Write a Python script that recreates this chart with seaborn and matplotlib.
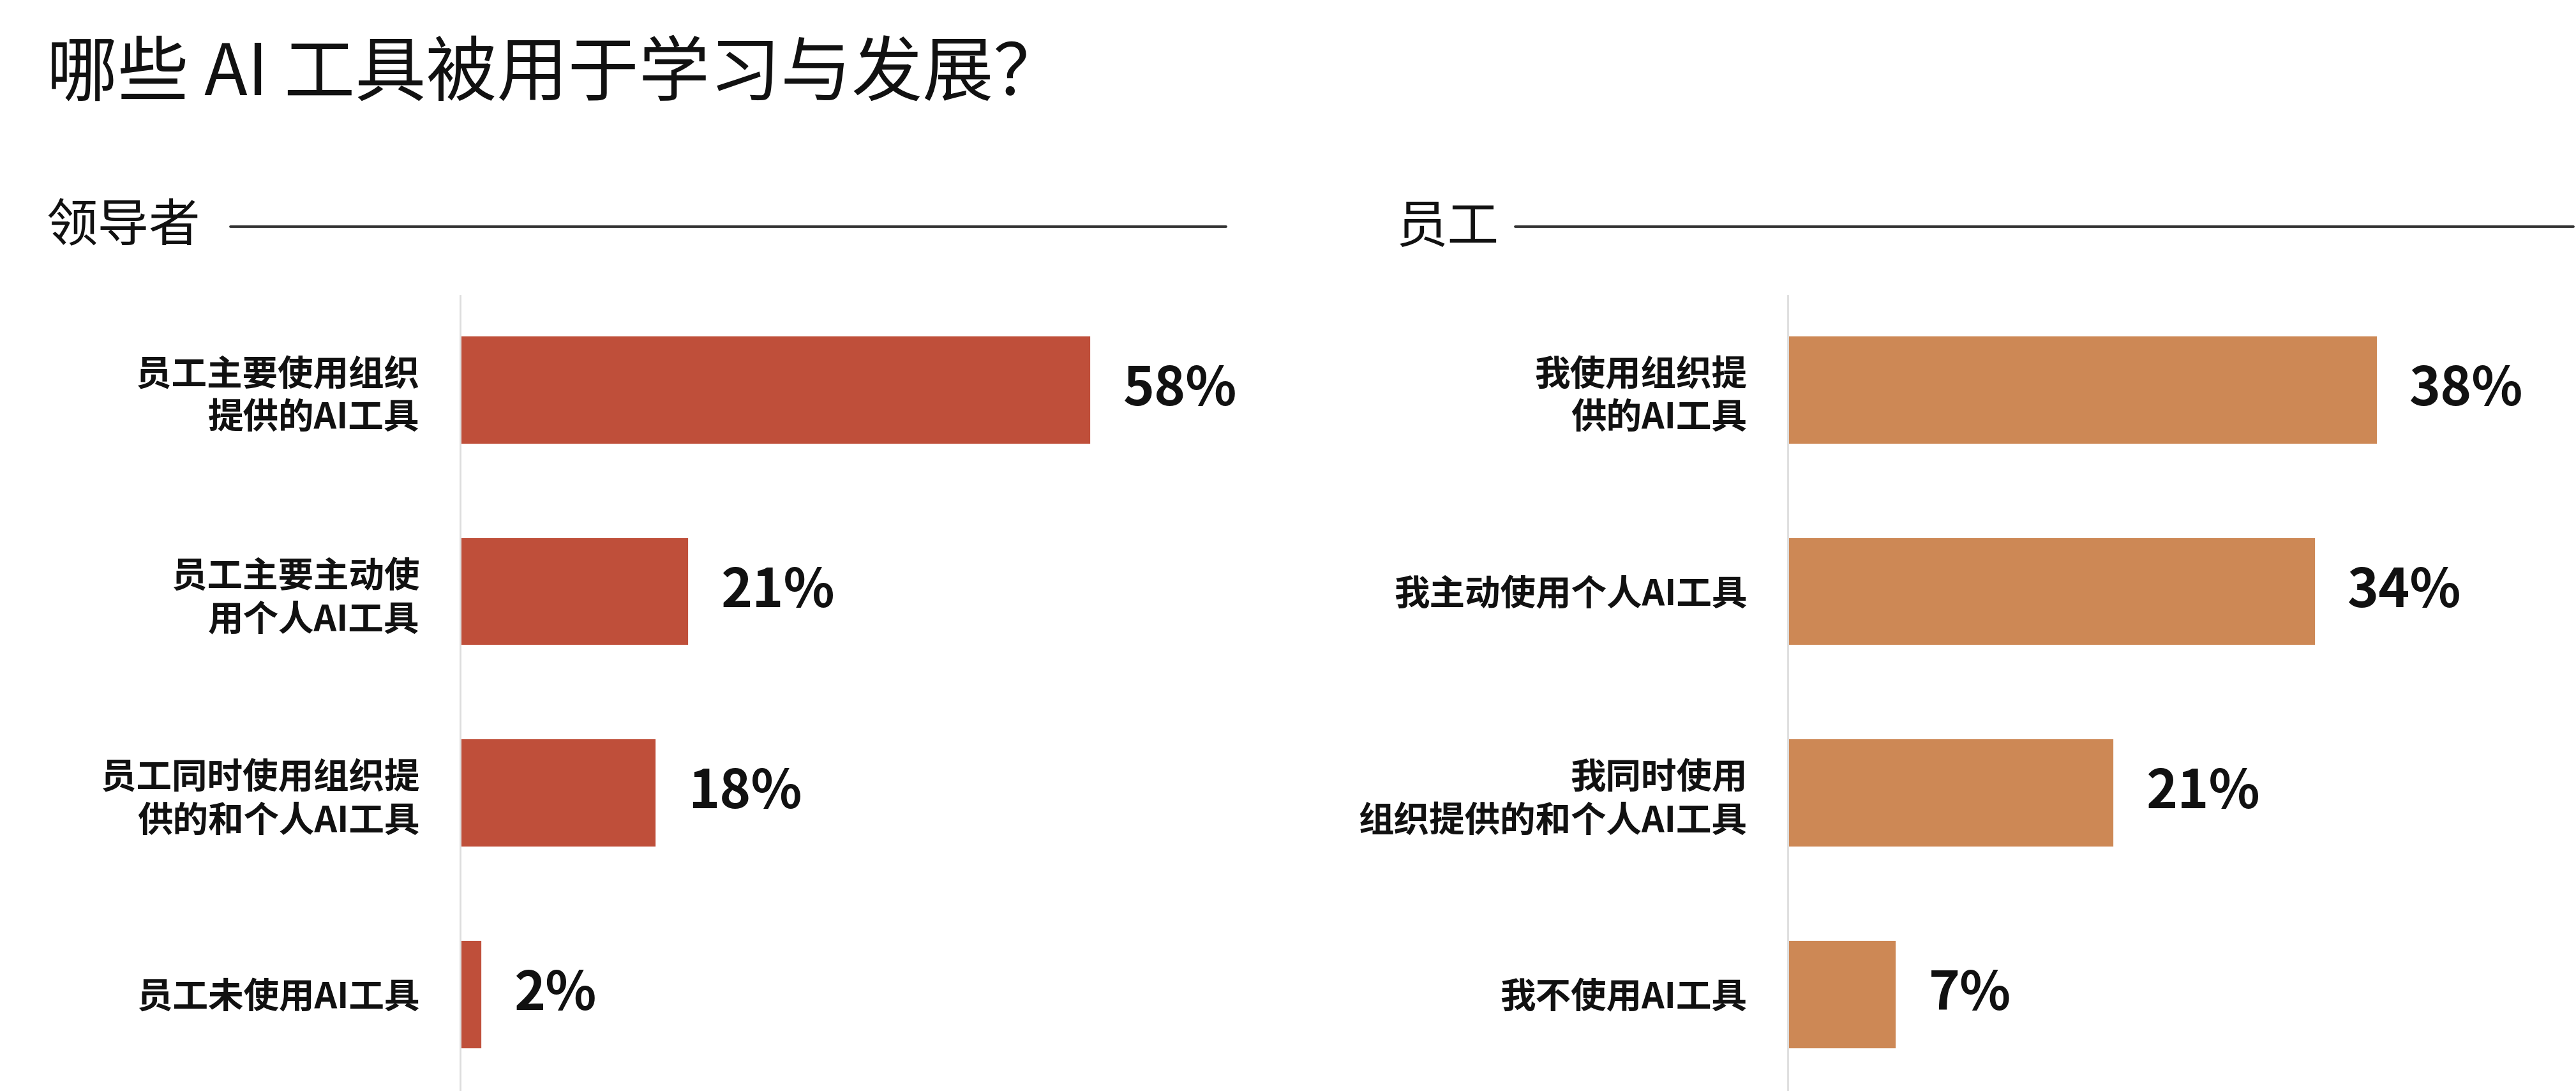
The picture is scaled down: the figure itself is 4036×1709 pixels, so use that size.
"""Which AI tools are used for learning & development: leaders vs employees."""

import matplotlib

matplotlib.use("Agg")
import matplotlib.pyplot as plt
import seaborn as sns
from matplotlib.lines import Line2D

TITLE = "哪些 AI 工具被用于学习与发展？"

LEADER_HEADER = "领导者"
LEADER_CATEGORIES = [
    "员工主要使用组织\n提供的AI工具",
    "员工主要主动使\n用个人AI工具",
    "员工同时使用组织提\n供的和个人AI工具",
    "员工未使用AI工具",
]
LEADER_VALUES = [58, 21, 18, 2]

EMPLOYEE_HEADER = "员工"
EMPLOYEE_CATEGORIES = [
    "我使用组织提\n供的AI工具",
    "我主动使用个人AI工具",
    "我同时使用\n组织提供的和个人AI工具",
    "我不使用AI工具",
]
EMPLOYEE_VALUES = [38, 34, 21, 7]

LEADER_COLOR = "#BF4F3A"
EMPLOYEE_COLOR = "#CD8855"
TEXT_COLOR = "#111111"

sns.set_style("white")
plt.rcParams["font.family"] = ["Noto Sans CJK SC", "DejaVu Sans"]

W, H, DPI = 4037, 1709, 200
fig = plt.figure(figsize=(W / DPI, H / DPI), dpi=DPI)

fig.text(0.018, 0.932, TITLE, fontsize=40, color=TEXT_COLOR,
         fontweight="medium", ha="left", va="center")


def draw_panel(rect, header_x, line_x0, header, cats, vals, color, xmax):
    # section header with a rule running to the right edge of the panel
    fig.text(header_x, 0.792, header, fontsize=29, color=TEXT_COLOR,
             ha="left", va="center")
    fig.add_artist(Line2D([line_x0, rect[0] + rect[2]], [0.792, 0.792],
                          transform=fig.transFigure, color="#333333",
                          linewidth=1.4))

    ax = fig.add_axes(rect)
    sns.barplot(x=vals, y=cats, ax=ax, color=color, width=0.54,
                saturation=1, orient="h")
    ax.set_xlim(0, xmax)
    ax.set_ylim(3.48, -0.465)
    ax.set_xticks([])
    ax.set_xlabel("")
    ax.set_ylabel("")
    for side in ("top", "right", "bottom"):
        ax.spines[side].set_visible(False)
    ax.spines["left"].set_color("#dddddd")
    ax.spines["left"].set_linewidth(1.0)
    ax.tick_params(axis="y", length=0, pad=23, labelsize=20,
                   labelcolor=TEXT_COLOR)
    for lbl in ax.get_yticklabels():
        lbl.set_fontweight("bold")
        lbl.set_linespacing(1.25)
        lbl.set_ha("right")

    for container in ax.containers:
        ax.bar_label(container, labels=[f"{v}%" for v in vals],
                     padding=18, fontsize=30, color=TEXT_COLOR,
                     fontweight="semibold")
    ax.patch.set_alpha(0)
    return ax


draw_panel([0.1786, 0.0, 0.2972, 0.7288], 0.018, 0.0893,
           LEADER_HEADER, LEADER_CATEGORIES, LEADER_VALUES,
           LEADER_COLOR, 70.4)
draw_panel([0.6939, 0.0, 0.3048, 0.7288], 0.542, 0.588,
           EMPLOYEE_HEADER, EMPLOYEE_CATEGORIES, EMPLOYEE_VALUES,
           EMPLOYEE_COLOR, 50.6)

fig.savefig("out.png", dpi=DPI, facecolor="white")
